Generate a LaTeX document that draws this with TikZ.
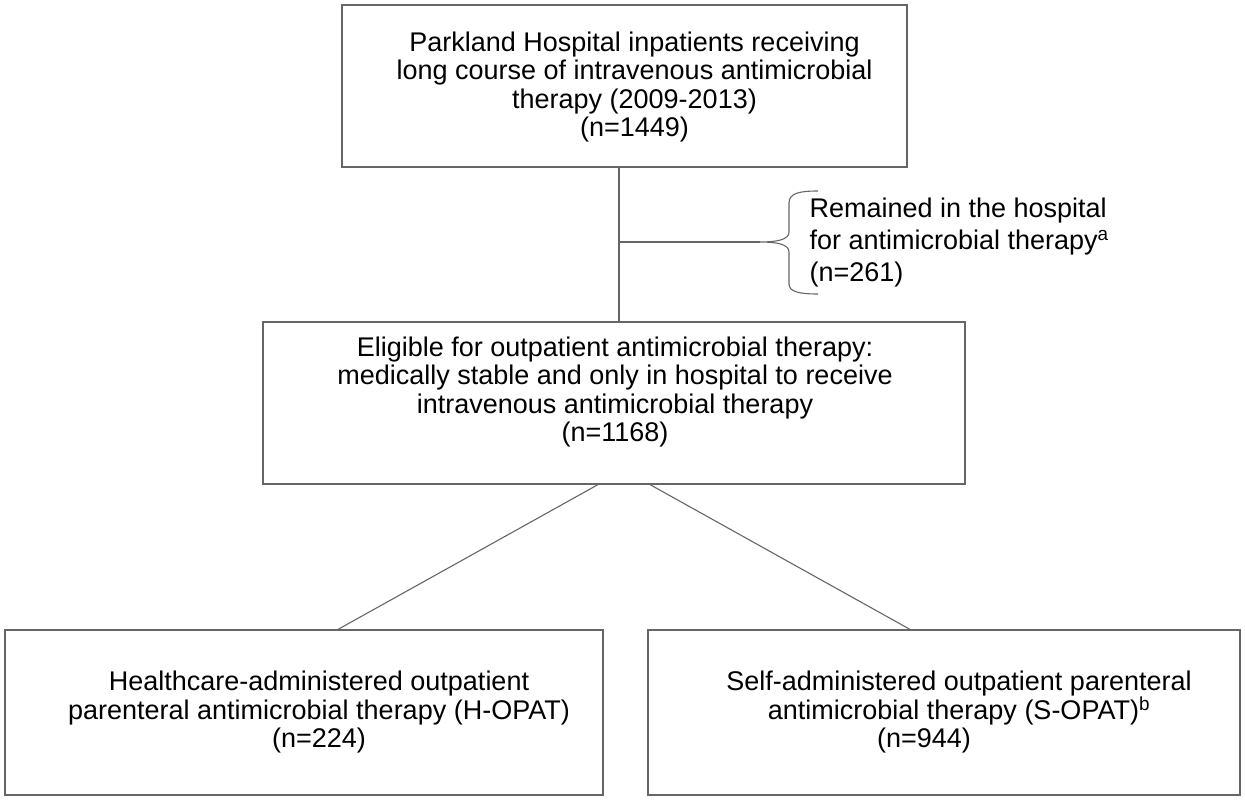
\documentclass[tikz,border=0pt]{standalone}
\usepackage{fontspec}
\setmainfont{Liberation Sans}
\usetikzlibrary{positioning}

\def\boxh{162pt}

\begin{document}
\begin{tikzpicture}[x=1pt,y=-1pt,line width=1.2pt,draw=black!60]
    \tikzstyle{box}=[draw=black!60,inner sep=0pt,minimum height=\boxh]
    \tikzstyle{boxtext}=[align=center,inner sep=0pt,font=\fontsize{27}{28.5}\selectfont]
    \tikzstyle{exitnote}=[align=left,inner sep=0pt,font=\fontsize{27}{32}\selectfont]
    \tikzstyle{conn}=[draw=black!60,line width=1.1pt]

    \useasboundingbox (0,0) rectangle (1245,800);

    % Draw the boxes
    \node[box,minimum width=565pt] (parkland) at (624.5,86) {};
    \node[box,minimum width=702pt] (eligible) at (614,403) {};
    \node[box,minimum width=598pt,minimum height=165pt] (hopat) at (304,712.5) {};
    \node[box,minimum width=592pt,minimum height=165pt] (sopat) at (944,712.5) {};

    % Texts of the boxes
    \node[boxtext] (parkland-t) at ([xshift=10pt,yshift=-1pt]parkland.center)
        {Parkland Hospital inpatients receiving\\long course of intravenous antimicrobial\\therapy (2009-2013)\\(n=1449)};
    \node[boxtext] (eligible-t) at ([xshift=1pt,yshift=11pt]eligible.center)
        {Eligible for outpatient antimicrobial therapy:\\medically stable and only in hospital to receive\\intravenous antimicrobial therapy\\(n=1168)};
    \node[boxtext] (hopat-t) at ([xshift=15pt]hopat.center)
        {Healthcare-administered outpatient\\parenteral antimicrobial therapy (H-OPAT)\\(n=224)};
    \node[boxtext] (sopat-t) at ([xshift=15pt]sopat.center)
        {Self-administered outpatient parenteral\\antimicrobial therapy (S-OPAT)\textsuperscript{b}\\(n=944)\hspace*{70pt}};

    % Patients that stayed in the hospital
    \coordinate (split) at (619,242);
    \coordinate (tip) at (760,242);
    \node[exitnote,anchor=north west] (remained) at (809,197)
        {Remained in the hospital\\for antimicrobial therapy\textsuperscript{a}\\(n=261)};

    % Connect the boxes
    \draw[conn] ([xshift=-5.5pt]parkland.south) -- ([xshift=5pt]eligible.north);
    \draw[conn] (split) -- (tip);
    \draw[conn] (818,191) .. controls (800,191) and (789,193) .. (789,203) -- (789,232)
        .. controls (789,240) and (776,242) .. (tip)
        .. controls (776,242) and (789,244) .. (789,252) -- (789,284)
        .. controls (789,292) and (800,294) .. (818,294);
    \draw[conn] ([xshift=-16pt]eligible.south) -- ([xshift=34pt]hopat.north);
    \draw[conn] ([xshift=36pt]eligible.south) -- ([xshift=-34pt]sopat.north);
\end{tikzpicture}
\end{document}
